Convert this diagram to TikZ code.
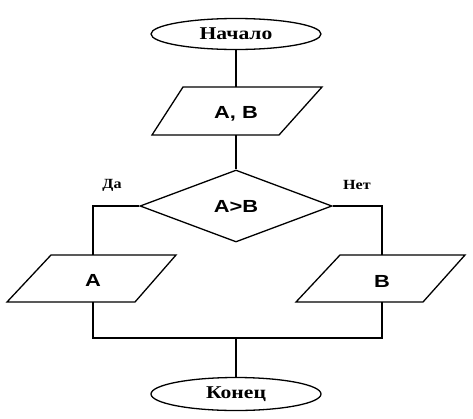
\documentclass[tikz,border=0pt]{standalone}
\usepackage{fontspec}
\setmainfont{Liberation Serif}
\newfontfamily\termfont{Liberation Serif}[FakeStretch=1.2]
\newfontfamily\lblfont{Liberation Serif}[FakeStretch=1.15]
\newfontfamily\arialfont{Liberation Sans}[FakeStretch=1.25]
\usetikzlibrary{shapes.geometric}
\begin{document}
\begin{tikzpicture}[x=1pt,y=-1pt,
  line width=1.3pt,
  term/.style={draw,ellipse,minimum width=170pt,minimum height=31pt,inner sep=0pt,
    font=\termfont\bfseries\fontsize{18}{20}\selectfont},
  iotext/.style={inner sep=0pt,font=\arialfont\bfseries\fontsize{17.5}{20}\selectfont},
  decide/.style={draw,diamond,minimum width=192pt,minimum height=72pt,inner sep=0pt,
    font=\arialfont\bfseries\fontsize{17.5}{20}\selectfont},
  lbl/.style={font=\lblfont\bfseries\fontsize{14}{16}\selectfont}]
\useasboundingbox (0,0) rectangle (473,418);
\node[term] (start) at (236,34) {Начало};
% input A, B
\node[iotext] (in) at (236,114) {A, B};
\draw (183,87) coordinate (in-tl) -- (322,87) -- (279,135) -- (152,135) -- cycle;
\coordinate (in-n) at (236,87);
\coordinate (in-s) at (236,135);
\node[decide] (cond) at (236,206) {A>B};
% output A
\node[iotext] (pa) at (93,280) {A};
\draw (51,255) -- (176,255) -- (135,302) -- (7,302) -- cycle;
\coordinate (pa-n) at (93,255);
\coordinate (pa-s) at (93,302);
% output B
\node[iotext] (pb) at (382,281) {B};
\draw (340,255) -- (465,255) -- (423,302) -- (296,302) -- cycle;
\coordinate (pb-n) at (382,255);
\coordinate (pb-s) at (382,302);
\node[term,minimum height=33pt] (stop) at (236,394) {Конец};
\node[lbl] (yes) at (112,185) {Да};
\node[lbl] (no) at (357,185) {Нет};
\coordinate (join) at (236,338);
\draw (start) -- (in-n);
\draw (in-s) -- (cond);
\draw (cond.west) -| (pa-n);
\draw (cond.east) -| (pb-n);
\draw (pa-s) |- (join);
\draw (pb-s) |- (join);
\draw (join) -- (stop);
\end{tikzpicture}
\end{document}
